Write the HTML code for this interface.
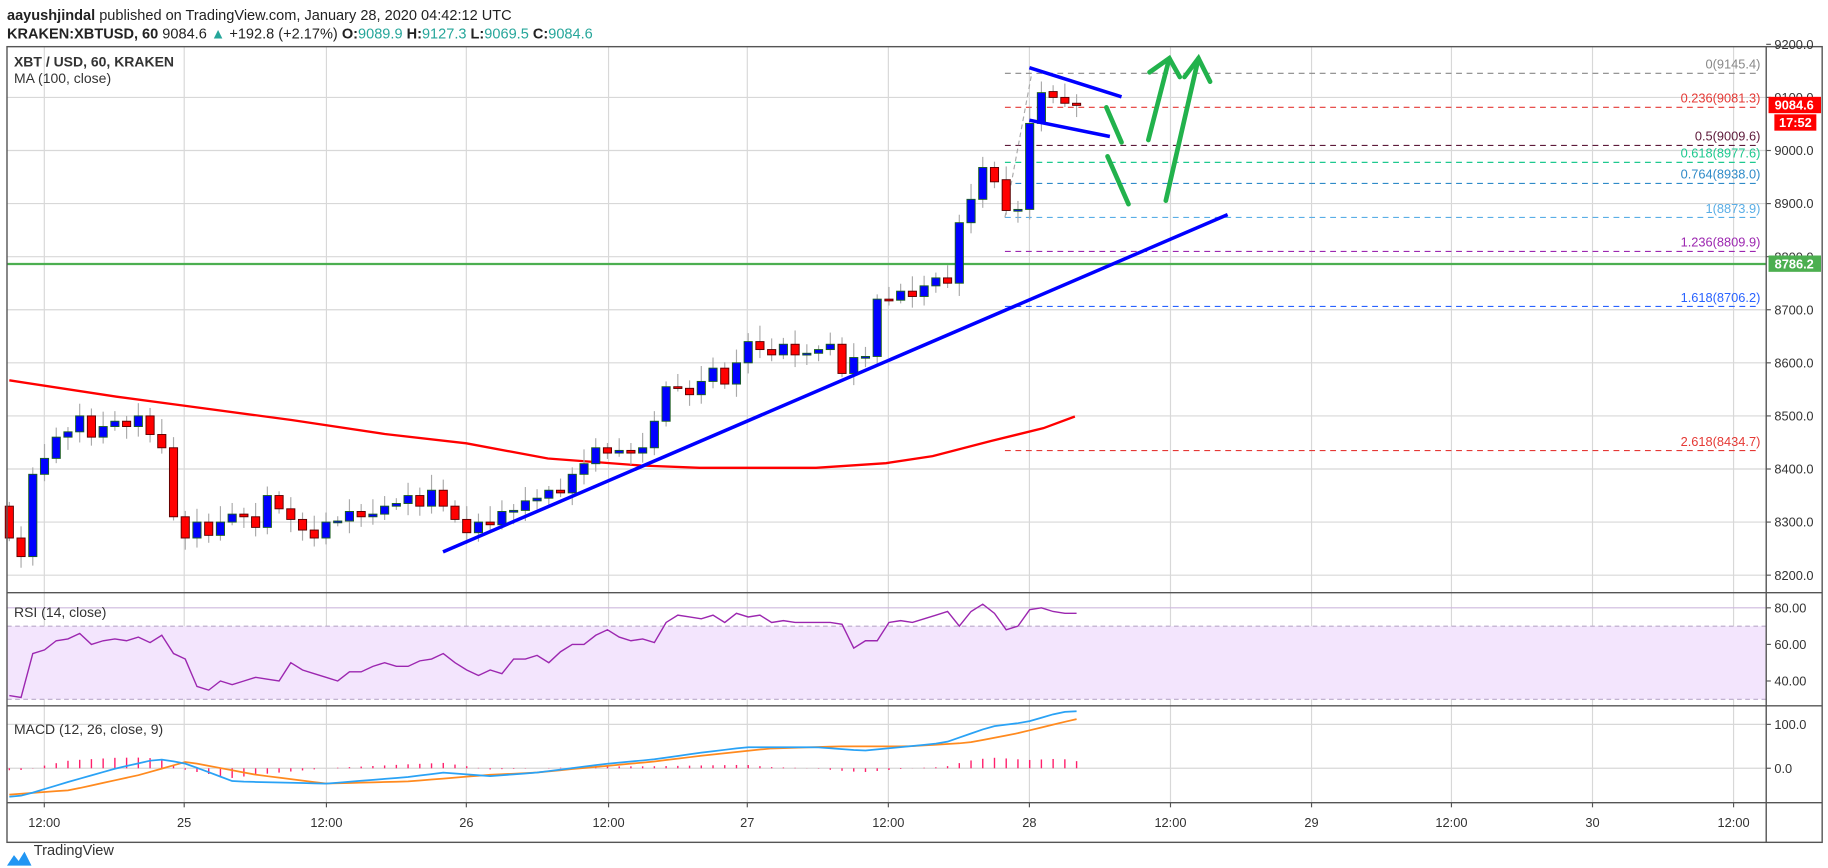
<!DOCTYPE html>
<html><head><meta charset="utf-8"><style>
html,body{margin:0;padding:0;background:#fff;}
svg{display:block;font-family:"Liberation Sans",sans-serif;}
</style></head><body>
<svg id="s" width="1828" height="868" viewBox="0 0 1568 744" preserveAspectRatio="none" xmlns="http://www.w3.org/2000/svg">
<rect width="1568" height="744" fill="#fff"/>
<text x="6" y="17" font-size="12.5" fill="#222"><tspan font-weight="bold">aayushjindal</tspan> published on TradingView.com, January 28, 2020 04:42:12 UTC</text>
<text x="6" y="33" font-size="12.5" fill="#222"><tspan font-weight="bold">KRAKEN:XBTUSD, 60</tspan> 9084.6 <tspan fill="#26a69a">▲</tspan> +192.8 (+2.17%) <tspan font-weight="bold">O:</tspan><tspan fill="#26a69a">9089.9</tspan> <tspan font-weight="bold">H:</tspan><tspan fill="#26a69a">9127.3</tspan> <tspan font-weight="bold">L:</tspan><tspan fill="#26a69a">9069.5</tspan> <tspan font-weight="bold">C:</tspan><tspan fill="#26a69a">9084.6</tspan></text>
<g id="grid"></g>
<!-- RSI band -->
<rect x="6" y="536.7" width="1509" height="62.7" fill="#f3e5fd"/>
<line x1="6" y1="536.7" x2="1515" y2="536.7" stroke="#b9a9c9" stroke-dasharray="4,3"/>
<line x1="6" y1="599.4" x2="1515" y2="599.4" stroke="#b9a9c9" stroke-dasharray="4,3"/>
<g id="plot"></g>
<!-- frame -->
<rect x="6" y="40" width="1557" height="682" fill="none" stroke="#555" stroke-width="1.2"/>
<line x1="1515" y1="40" x2="1515" y2="722" stroke="#555" stroke-width="1.2"/>
<line x1="6" y1="508" x2="1563" y2="508" stroke="#555" stroke-width="1.2"/>
<line x1="6" y1="605" x2="1563" y2="605" stroke="#555" stroke-width="1.2"/>
<line x1="6" y1="688" x2="1563" y2="688" stroke="#555" stroke-width="1.2"/>
<text x="12" y="57" font-size="12" font-weight="bold" fill="#333">XBT / USD, 60, KRAKEN</text>
<text x="12" y="71" font-size="12" fill="#333">MA (100, close)</text>
<text x="12" y="529" font-size="12" fill="#333">RSI (14, close)</text>
<text x="12" y="629" font-size="12" fill="#333">MACD (12, 26, close, 9)</text>
<g id="axis" font-size="11" fill="#333"></g>
<!-- labels on axis -->
<rect x="1517" y="83" width="45" height="14" fill="#ff0000"/>
<text x="1539" y="94" font-size="11" font-weight="bold" fill="#fff" text-anchor="middle">9084.6</text>
<rect x="1522" y="98" width="36" height="14" fill="#ff0000"/>
<text x="1540" y="109" font-size="11" font-weight="bold" fill="#fff" text-anchor="middle">17:52</text>
<rect x="1517" y="219" width="45" height="14" fill="#4caf50"/>
<text x="1539" y="230" font-size="11" font-weight="bold" fill="#fff" text-anchor="middle">8786.2</text>
<!-- logo -->
<path d="M6 742 L12 733 L16 738 L21 730 L27 742 Z" fill="#2196f3"/>
<text x="29" y="733" font-size="12.5" fill="#333">TradingView</text>
</svg>
<script>
const NS="http://www.w3.org/2000/svg";
function el(p,t,a,txt){const e=document.createElementNS(NS,t);for(const k in a)e.setAttribute(k,a[k]);if(txt!==undefined)e.textContent=txt;document.getElementById(p).appendChild(e);return e;}
const Y=p=>129+(9000-p)*0.455;
const XI=i=>8+i*10.06;
// grid
const vx=[38,158,280,400,522,641,762,883,1004,1125,1245,1366,1487];
const vl=["12:00","25","12:00","26","12:00","27","12:00","28","12:00","29","12:00","30","12:00"];
vx.forEach((x,i)=>{el("grid","line",{x1:x,y1:40,x2:x,y2:688,stroke:"#d8d8d8"});el("axis","line",{x1:x,y1:688,x2:x,y2:692,stroke:"#555"});el("axis","text",{x:x,y:709,"text-anchor":"middle"},vl[i]);});
for(let p=8200;p<=9200;p+=100){const y=Y(p);if(y>41)el("grid","line",{x1:6,y1:y,x2:1515,y2:y,stroke:"#d8d8d8"});el("axis","line",{x1:1515,y1:y,x2:1519,y2:y,stroke:"#555"});el("axis","text",{x:1522,y:y+4},p.toFixed(1));}
const ry=v=>521+(80-v)*1.5675;
[80,60,40].forEach(v=>{el("grid","line",{x1:6,y1:ry(v),x2:1515,y2:ry(v),stroke:"#cdb8dd"});el("axis","line",{x1:1515,y1:ry(v),x2:1519,y2:ry(v),stroke:"#555"});el("axis","text",{x:1522,y:ry(v)+4},v.toFixed(2));});
const my=v=>658.5-v*0.376;
[100,0].forEach(v=>{el("grid","line",{x1:6,y1:my(v),x2:1515,y2:my(v),stroke:"#d8d8d8"});el("axis","line",{x1:1515,y1:my(v),x2:1519,y2:my(v),stroke:"#555"});el("axis","text",{x:1522,y:my(v)+4},v.toFixed(1));});
// fib
const fib=[[0,9145.4,"#888"],[0.236,9081.3,"#e53935"],[0.5,9009.6,"#5d1a3a"],[0.618,8977.6,"#1ec98f"],[0.764,8938.0,"#2f8bc8"],[1,8873.9,"#5aaee6"],[1.236,8809.9,"#9c27b0"],[1.618,8706.2,"#2962ff"],[2.618,8434.7,"#e53935"]];
fib.forEach(f=>{const y=Y(f[1]);el("plot","line",{x1:862,y1:y,x2:1510,y2:y,stroke:f[2],"stroke-dasharray":"5,4","stroke-width":1});el("plot","text",{x:1510,y:y-4,"text-anchor":"end","font-size":11,fill:f[2]},f[0]+"("+f[1].toFixed(1)+")");});
el("plot","line",{x1:862,y1:Y(8873.9),x2:885,y2:Y(9145.4),stroke:"#aaa","stroke-dasharray":"4,3"});
el("plot","line",{x1:6,y1:Y(8786.2),x2:1515,y2:Y(8786.2),stroke:"#4caf50","stroke-width":2});
// MA
const ma=[[8,326],[100,340],[160,348],[250,360],[330,372],[400,380],[470,393],[550,399],[600,401],[700,401],[760,397],[800,391],[850,378],[895,367],[922,357]];
el("plot","polyline",{points:ma.map(p=>p.join(",")).join(" "),fill:"none",stroke:"#ff0000","stroke-width":2});
// candles
const c=[8270,8235,8390,8420,8460,8470,8500,8460,8480,8490,8480,8500,8465,8440,8310,8270,8300,8275,8300,8315,8310,8290,8350,8325,8305,8285,8270,8300,8302,8320,8310,8315,8330,8335,8350,8330,8360,8330,8305,8280,8300,8295,8320,8322,8340,8345,8360,8355,8390,8410,8440,8430,8435,8430,8440,8490,8555,8552,8540,8565,8590,8560,8600,8640,8625,8615,8635,8615,8618,8625,8635,8580,8610,8612,8720,8718,8735,8725,8745,8760,8750,8864,8908,8968,8941,8887,8889,9051,9109,9100,9089,9085];
c.forEach((cl,i)=>{let o=i?c[i-1]:8330;if(i==85)o=8945;if(i==89)o=9111;const x=XI(i);const hi=Math.max(o,cl)+8+((i*37)%23);const lo=Math.min(o,cl)-6-((i*53)%19);
el("plot","line",{x1:x,y1:Y(hi),x2:x,y2:Y(lo),stroke:"#aaa"});
const up=cl>=o;const y1=Y(Math.max(o,cl)),y2=Y(Math.min(o,cl));
el("plot","rect",{x:x-3.5,y:y1,width:7,height:Math.max(y2-y1,1.5),fill:up?"#0000ff":"#ff0000",stroke:up?"#1b5e20":"#5a0000","stroke-width":0.8});});
// trend lines
el("plot","line",{x1:380,y1:473,x2:1053,y2:184,stroke:"#0000ff","stroke-width":3});
el("plot","line",{x1:883,y1:58,x2:962,y2:83,stroke:"#0000ff","stroke-width":3});
el("plot","line",{x1:883,y1:103,x2:952,y2:117,stroke:"#0000ff","stroke-width":3});
const g={stroke:"#22b24c","stroke-width":4,"stroke-linecap":"round",fill:"none"};
el("plot","line",Object.assign({x1:949,y1:92,x2:962,y2:122},g));
el("plot","line",Object.assign({x1:950,y1:134,x2:968,y2:175},g));
el("plot","polyline",Object.assign({points:"985,120 1003,50"},g));
el("plot","polyline",Object.assign({points:"986,62 1003,50 1012,66"},g));
el("plot","polyline",Object.assign({points:"1000,172 1028,50"},g));
el("plot","polyline",Object.assign({points:"1016,66 1028,50 1038,70"},g));
// RSI
const r=[32,31,55,57,62,63,66,60,62,63,62,64,61,65,55,52,37,35,40,38,40,42,41,40,50,46,44,42,40,45,45,48,50,48,48,51,52,55,50,46,43,46,44,52,52,54,50,56,60,60,65,68,64,62,63,61,72,76,75,74,76,72,77,75,76,72,73,72,72,72,72,71,58,62,62,72,73,72,74,76,78,70,78,82,77,68,70,79,80,78,77,77];
el("plot","polyline",{points:r.map((v,i)=>XI(i)+","+ry(v)).join(" "),fill:"none",stroke:"#9c27b0","stroke-width":1.2});
// MACD
function interp(k,x){for(let j=0;j<k.length-1;j++){if(x<=k[j+1][0]){const t=(x-k[j][0])/(k[j+1][0]-k[j][0]);return k[j][1]+t*(k[j+1][1]-k[j][1]);}}return k[k.length-1][1];}
const mk=[[8,-65],[20,-62],[60,-30],[100,0],[130,18],[140,20],[160,10],[200,-30],[280,-35],[350,-20],[380,-10],[420,-18],[460,-10],[520,10],[560,20],[600,35],[640,48],[700,48],[740,40],[780,50],[810,58],[850,95],[880,105],[910,128],[923,130]];
const sk=[[8,-60],[60,-50],[120,-15],[160,15],[220,-15],[280,-35],[350,-30],[420,-15],[460,-10],[490,-2],[560,15],[600,28],[660,45],[720,50],[780,50],[830,58],[870,78],[923,112]];
let mp=[],sp=[];
for(let i=0;i<92;i++){const x=XI(i);const m=interp(mk,x),s=interp(sk,x);mp.push(x+","+my(m));sp.push(x+","+my(s));const h=(m-s)*0.9;el("plot","line",{x1:x,y1:my(0),x2:x,y2:my(h),stroke:"#ff1f6b","stroke-width":1.2});}
el("plot","polyline",{points:sp.join(" "),fill:"none",stroke:"#ff8a1f","stroke-width":1.5});
el("plot","polyline",{points:mp.join(" "),fill:"none",stroke:"#2aa2f5","stroke-width":1.5});
</script>
</body></html>
